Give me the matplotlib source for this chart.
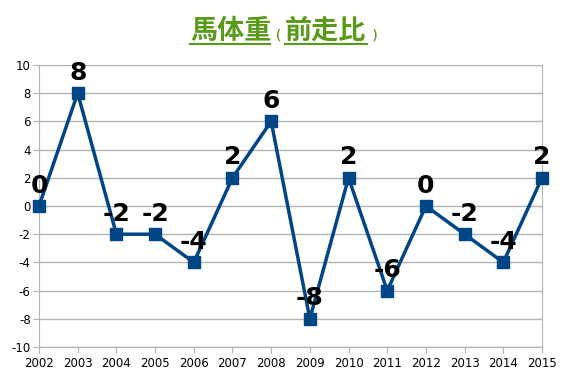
import matplotlib.pyplot as plt

plt.rcParams['axes.unicode_minus'] = False

years = [str(y) for y in range(2002, 2016)]
values = [0, 8, -2, -2, -4, 2, 6, -8, 2, -6, 0, -2, -4, 2]

fig = plt.figure(figsize=(5.67, 3.78), dpi=100)
ax = fig.add_axes([39 / 567, 1 - 347 / 378, (542 - 39) / 567, (347 - 65) / 378])

x = list(range(len(years)))
ax.plot(x, values, color='#004586', lw=2.5, marker='s', ms=8, zorder=3, clip_on=False)

for xi, v in zip(x, values):
    ax.annotate(str(v), (xi, v), xytext=(0, 6), textcoords='offset points',
                ha='center', va='bottom', fontsize=18, fontweight='bold',
                family='DejaVu Sans', color='black', zorder=4)

ax.set_xlim(0, len(years) - 1)
ax.set_ylim(-10, 10)
ax.set_yticks(range(-10, 11, 2))
ax.set_xticks(x)
ax.set_xticklabels(years)
ax.yaxis.grid(True, color='#b3b3b3', lw=1)
ax.set_axisbelow(True)
ax.spines['top'].set_visible(False)
for s in ['left', 'bottom', 'right']:
    ax.spines[s].set_color('#b3b3b3')
ax.tick_params(axis='both', colors='#b3b3b3', labelcolor='black', labelsize=8.5, length=4)
ax.tick_params(axis='y', pad=2)
ax.tick_params(axis='x', pad=3)

fam = ['Noto Sans CJK JP', 'DejaVu Sans']
green = '#5a9a1a'
ty = 1 - 31 / 378
fig.text(190 / 567, ty, '馬体重', ha='left', va='center', fontsize=19.5,
         fontweight='bold', color=green, family=fam)
fig.text(278 / 567, 1 - 35 / 378, '(', ha='center', va='center', fontsize=9,
         fontweight='bold', color=green, family=fam)
fig.text(285 / 567, ty, '前走比', ha='left', va='center', fontsize=19.5,
         fontweight='bold', color=green, family=fam)
fig.text(375 / 567, 1 - 35 / 378, ')', ha='center', va='center', fontsize=9,
         fontweight='bold', color=green, family=fam)
fig.add_artist(plt.Line2D([190 / 567, 270 / 567], [1 - 44 / 378] * 2, color=green, lw=1.5))
fig.add_artist(plt.Line2D([285 / 567, 367 / 567], [1 - 44 / 378] * 2, color=green, lw=1.5))

fig.savefig('out.png', dpi=100)
